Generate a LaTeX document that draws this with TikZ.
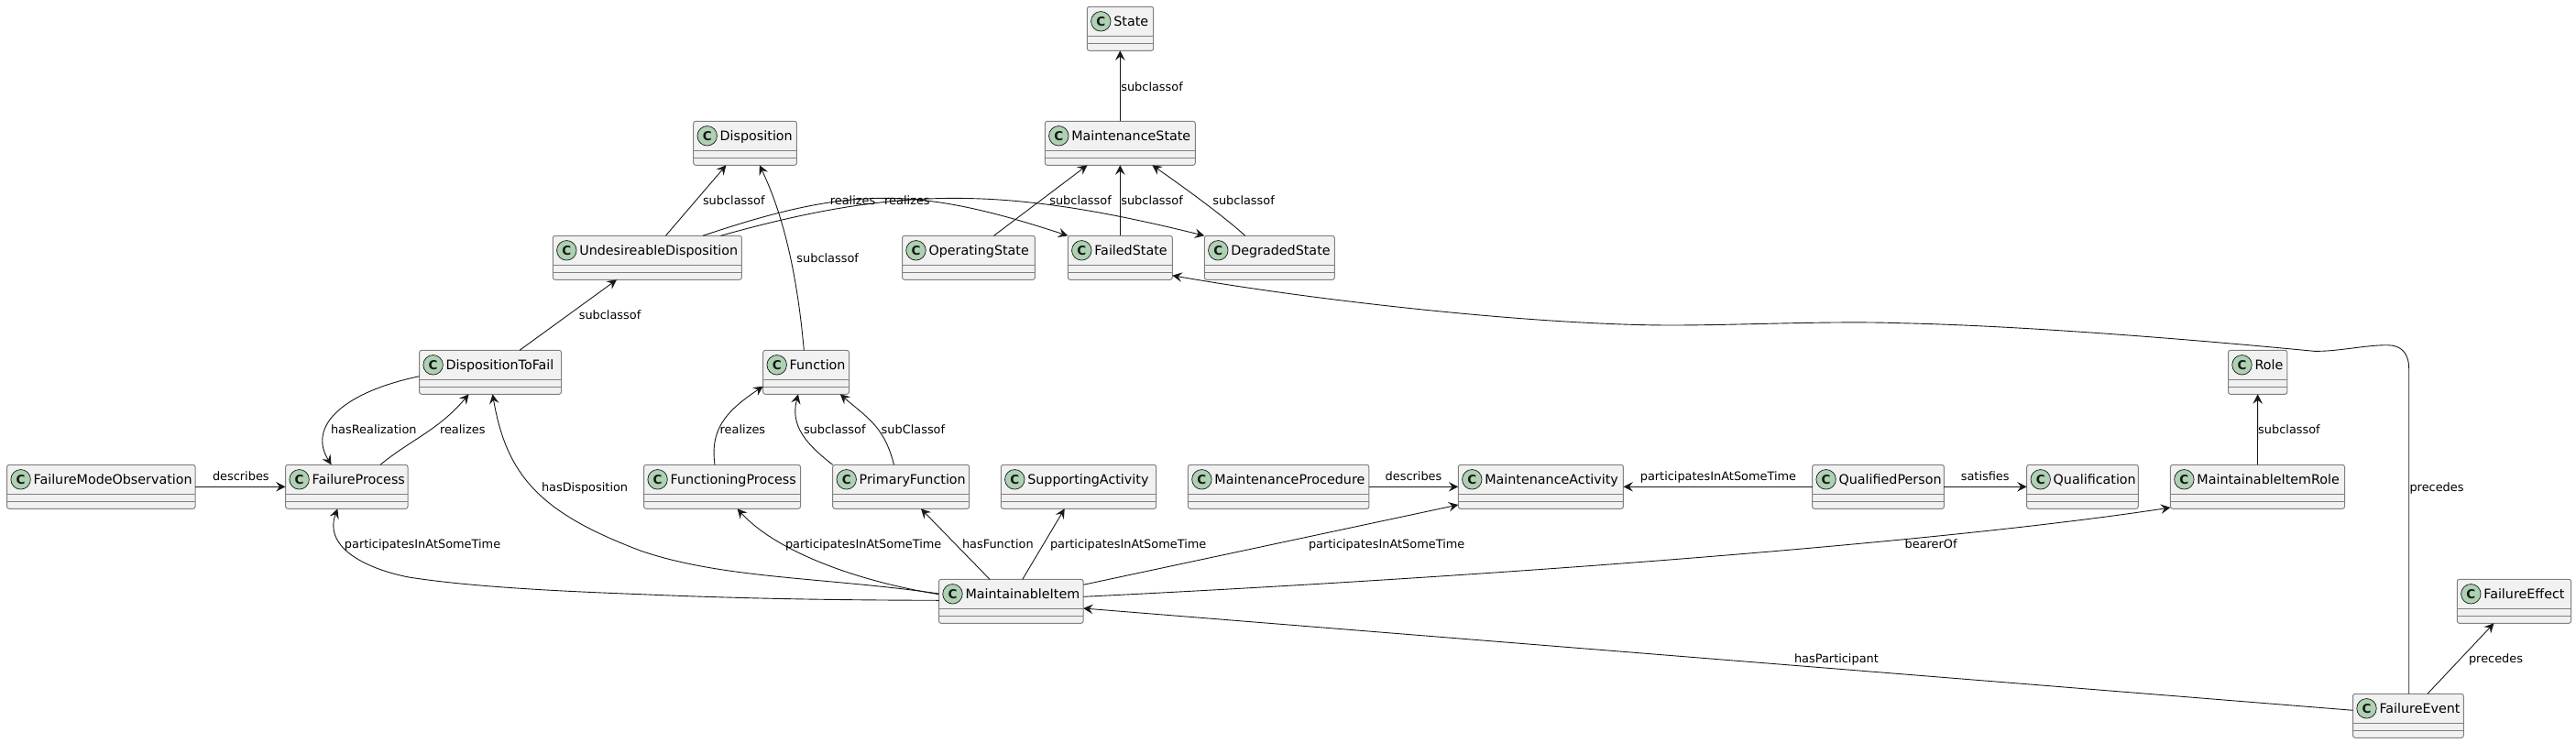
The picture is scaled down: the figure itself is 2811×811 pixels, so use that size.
\documentclass[tikz,border=0pt]{standalone}
\usepackage{fontspec}
\setmainfont{DejaVu Sans}
\usetikzlibrary{arrows.meta,calc}
\definecolor{ink}{HTML}{181818}
\definecolor{frame}{HTML}{808080}
\definecolor{classfill}{HTML}{F1F1F1}
\definecolor{badgefill}{HTML}{ADD1B2}
\tikzset{
  classbody/.style={draw=frame,fill=classfill,line width=1pt,rounded corners=2.5pt,minimum height=48pt,inner sep=0pt,outer sep=0pt},
  classrule/.style={draw=frame,line width=1pt},
  badge/.style={circle,draw=ink,fill=badgefill,line width=0.7pt,minimum size=21.5pt,inner sep=0pt,font=\fontsize{13.5}{14}\selectfont\bfseries,text=ink},
  classname/.style={anchor=base west,inner sep=0pt,outer sep=0pt,font=\fontsize{14.3}{16}\selectfont,text=black},
  rel/.style={draw=ink,line width=0.9pt,-{Stealth[length=10.5pt,width=10.5pt,inset=4pt]}},
  edgelabel/.style={anchor=base west,inner sep=0pt,outer sep=0pt,font=\fontsize{12.9}{15}\selectfont,text=black},
}
\newcommand\classbox[5]{%
  \pgfmathsetmacro\boxw{#4-#2}%
  \pgfmathsetmacro\boxcx{(#4+#2)/2}%
  \pgfmathsetmacro\boxcy{#3+24}%
  \node[classbody,minimum width=\boxw pt] (#1) at (\boxcx,\boxcy) {};
  \draw[classrule] ([yshift=-32pt]#1.north west) -- ([yshift=-32pt]#1.north east);
  \draw[classrule] ([yshift=-40pt]#1.north west) -- ([yshift=-40pt]#1.north east);
  \node[badge] (#1Badge) at ([xshift=15pt,yshift=-16pt]#1.north west) {C};
  \node[classname] (#1Name) at ([xshift=29pt,yshift=-21.3pt]#1.north west) {#5};
}
\begin{document}
\begin{tikzpicture}[x=1pt,y=-1pt]
\useasboundingbox (0,0) rectangle (2811,811);
% classes
\classbox{State}{1186.3}{7.3}{1258.7}{State}
\classbox{MState}{1140.3}{132.3}{1304.3}{MaintenanceState}
\classbox{Disposition}{756.7}{132.3}{869.4}{Disposition}
\classbox{UD}{603.3}{257.3}{809.4}{UndesireableDisposition}
\classbox{OpState}{984.5}{257.3}{1129.4}{OperatingState}
\classbox{FailedState}{1165.3}{257.3}{1279.3}{FailedState}
\classbox{DegState}{1314.3}{257.3}{1456.3}{DegradedState}
\classbox{DTF}{457.6}{382.3}{612.5}{DispositionToFail}
\classbox{Function}{832.7}{382.3}{926.5}{Function}
\classbox{Role}{2431.5}{382.3}{2495.8}{Role}
\classbox{FMO}{7.6}{507.3}{213}{FailureModeObservation}
\classbox{FP}{311.6}{507.3}{445}{FailureProcess}
\classbox{FuncProc}{702.6}{507.3}{873.5}{FunctioningProcess}
\classbox{PF}{908.7}{507.3}{1057.7}{PrimaryFunction}
\classbox{SA}{1092.3}{507.3}{1261.7}{SupportingActivity}
\classbox{MP}{1296.4}{507.3}{1493.9}{MaintenanceProcedure}
\classbox{MA}{1591.3}{507.3}{1771.4}{MaintenanceActivity}
\classbox{QP}{1977.6}{507.3}{2121.4}{QualifiedPerson}
\classbox{Qual}{2211.7}{507.3}{2333.3}{Qualification}
\classbox{MIR}{2368.4}{507.3}{2558.5}{MaintainableItemRole}
\classbox{MI}{1024.5}{632.3}{1182.1}{MaintainableItem}
\classbox{FEffect}{2681.3}{632.3}{2805.6}{FailureEffect}
\classbox{FEvent}{2567.5}{757.3}{2688.3}{FailureEvent}
% relations
\draw[rel] (1222.3,0 |- MState.north) -- (1222.3,0 |- State.south);
\draw[rel] (1222.3,0 |- FailedState.north) -- (1222.3,0 |- MState.south);
\draw[rel] (1084.5,0 |- OpState.north) -- (1186.5,0 |- MState.south);
\draw[rel] (1358.7,0 |- DegState.north) .. controls (1340,240) and (1300,210) .. (1257.3,0 |- MState.south);
\draw[rel] (726.4,0 |- UD.north) -- (792.4,0 |- Disposition.south);
\draw[rel] (877.3,0 |- Function.north) .. controls (870,300) and (855,235) .. (828.8,0 |- Disposition.south);
\draw[rel] (567,0 |- DTF.north) -- (673,0 |- UD.south);
\draw[rel] (767,0 |- UD.north) .. controls (928,203) and (1000,203) .. (FailedState.north west);
\draw[rel] (786.4,0 |- UD.north) .. controls (980,203) and (1095,203) .. (DegState.north west);
\draw[rel] (2628.7,0 |- FEvent.north) -- (2628.7,403) .. controls (2628.7,385) and (2620,376.7) .. (2605,376.7)
  .. controls (2580,376.7) and (2550,384) .. (2525,383.3)
  .. controls (2450,376) and (2230,356) .. (2073.6,352.7)
  .. controls (2000,350) and (1900,355) .. (1823.6,355)
  .. controls (1680,355) and (1440,329) .. (FailedState.east |- 0,300.7);
\draw[rel] (2648.9,0 |- FEvent.north) -- (2721.4,0 |- FEffect.south);
\draw[rel] (FEvent.west |- 0,775.3) -- (MI.east |- 0,664);
\draw[rel] (MI.east |- 0,651.3) .. controls (1580,632) and (2100,595) .. (MIR.west |- 0,554);
\draw[rel] (MI.east |- 0,638.3) -- (MA.west |- 0,551);
\draw[rel] (1115.8,0 |- MI.north) -- (1161.7,0 |- SA.south);
\draw[rel] (1080,0 |- MI.north) -- (1005,0 |- PF.south);
\draw[rel] (MI.west |- 0,648.7) .. controls (930,633.5) and (845,600) .. (804.6,0 |- FuncProc.south);
\draw[rel] (MI.west |- 0,648) .. controls (900,630) and (790,632) .. (700,601.5)
  .. controls (590,560) and (553,520) .. (537.5,0 |- DTF.south);
\draw[rel] (MI.west |- 0,655.3) .. controls (900,655) and (800,653) .. (700,648.7)
  .. controls (600,645) and (510,640) .. (446,630)
  .. controls (405,622) and (352,600) .. (368.3,0 |- FP.south);
\draw[rel] (DTF.west |- 0,410.7) .. controls (375,428) and (335,465) .. (361.6,0 |- FP.north);
\draw[rel] (415,0 |- FP.north) .. controls (448,480) and (478,470) .. (511.6,0 |- DTF.south);
\draw[rel] (FMO.east |- 0,531.3) -- (FP.west |- 0,531.3);
\draw[rel] (780,0 |- FuncProc.north) .. controls (775,470) and (790,450) .. (Function.west |- 0,421.7);
\draw[rel] (PF.north west) .. controls (880,485) and (862,465) .. (871,0 |- Function.south);
\draw[rel] (975.5,0 |- PF.north) .. controls (965,465) and (945,455) .. (916.8,0 |- Function.south);
\draw[rel] (MP.east |- 0,531.3) -- (MA.west |- 0,531.3);
\draw[rel] (QP.west |- 0,531.3) -- (MA.east |- 0,531.3);
\draw[rel] (QP.east |- 0,531.3) -- (Qual.west |- 0,531.3);
\draw[rel] (MIR.north) -- (Role.south);
% labels
\node[edgelabel] (L1) at (1223.3,99) {subclassof};
\node[edgelabel] (L2) at (1223.3,223.7) {subclassof};
\node[edgelabel] (L3) at (1145.3,223.7) {subclassof};
\node[edgelabel] (L4) at (1323.3,223.7) {subclassof};
\node[edgelabel] (L5) at (767,223.7) {subclassof};
\node[edgelabel] (L6) at (869.4,286) {subclassof};
\node[edgelabel] (L7) at (631.8,348.7) {subclassof};
\node[edgelabel] (L8) at (905.8,223.7) {realizes};
\node[edgelabel] (L9) at (965.2,223.7) {realizes};
\node[edgelabel] (L10) at (2629.5,536.3) {precedes};
\node[edgelabel] (L11) at (2694,723.3) {precedes};
\node[edgelabel] (L12) at (1958,723.3) {hasParticipant};
\node[edgelabel] (L13) at (2078.6,598.3) {bearerOf};
\node[edgelabel] (L14) at (1428,598.3) {participatesInAtSomeTime};
\node[edgelabel] (L15) at (1146,598.3) {participatesInAtSomeTime};
\node[edgelabel] (L16) at (1050,598.3) {hasFunction};
\node[edgelabel] (L17) at (857,598.3) {participatesInAtSomeTime};
\node[edgelabel] (L18) at (591,536) {hasDisposition};
\node[edgelabel] (L19) at (375.9,598.3) {participatesInAtSomeTime};
\node[edgelabel] (L20) at (361,473.3) {hasRealization};
\node[edgelabel] (L21) at (480,473.3) {realizes};
\node[edgelabel] (L22) at (232,524) {describes};
\node[edgelabel] (L23) at (785.7,473.3) {realizes};
\node[edgelabel] (L24) at (877,473.3) {subclassof};
\node[edgelabel] (L25) at (961.7,473.3) {subClassof};
\node[edgelabel] (L26) at (1511.7,524) {describes};
\node[edgelabel] (L27) at (1789.8,524) {participatesInAtSomeTime};
\node[edgelabel] (L28) at (2139.8,524) {satisfies};
\node[edgelabel] (L29) at (2464.2,473.3) {subclassof};
\end{tikzpicture}
\end{document}
